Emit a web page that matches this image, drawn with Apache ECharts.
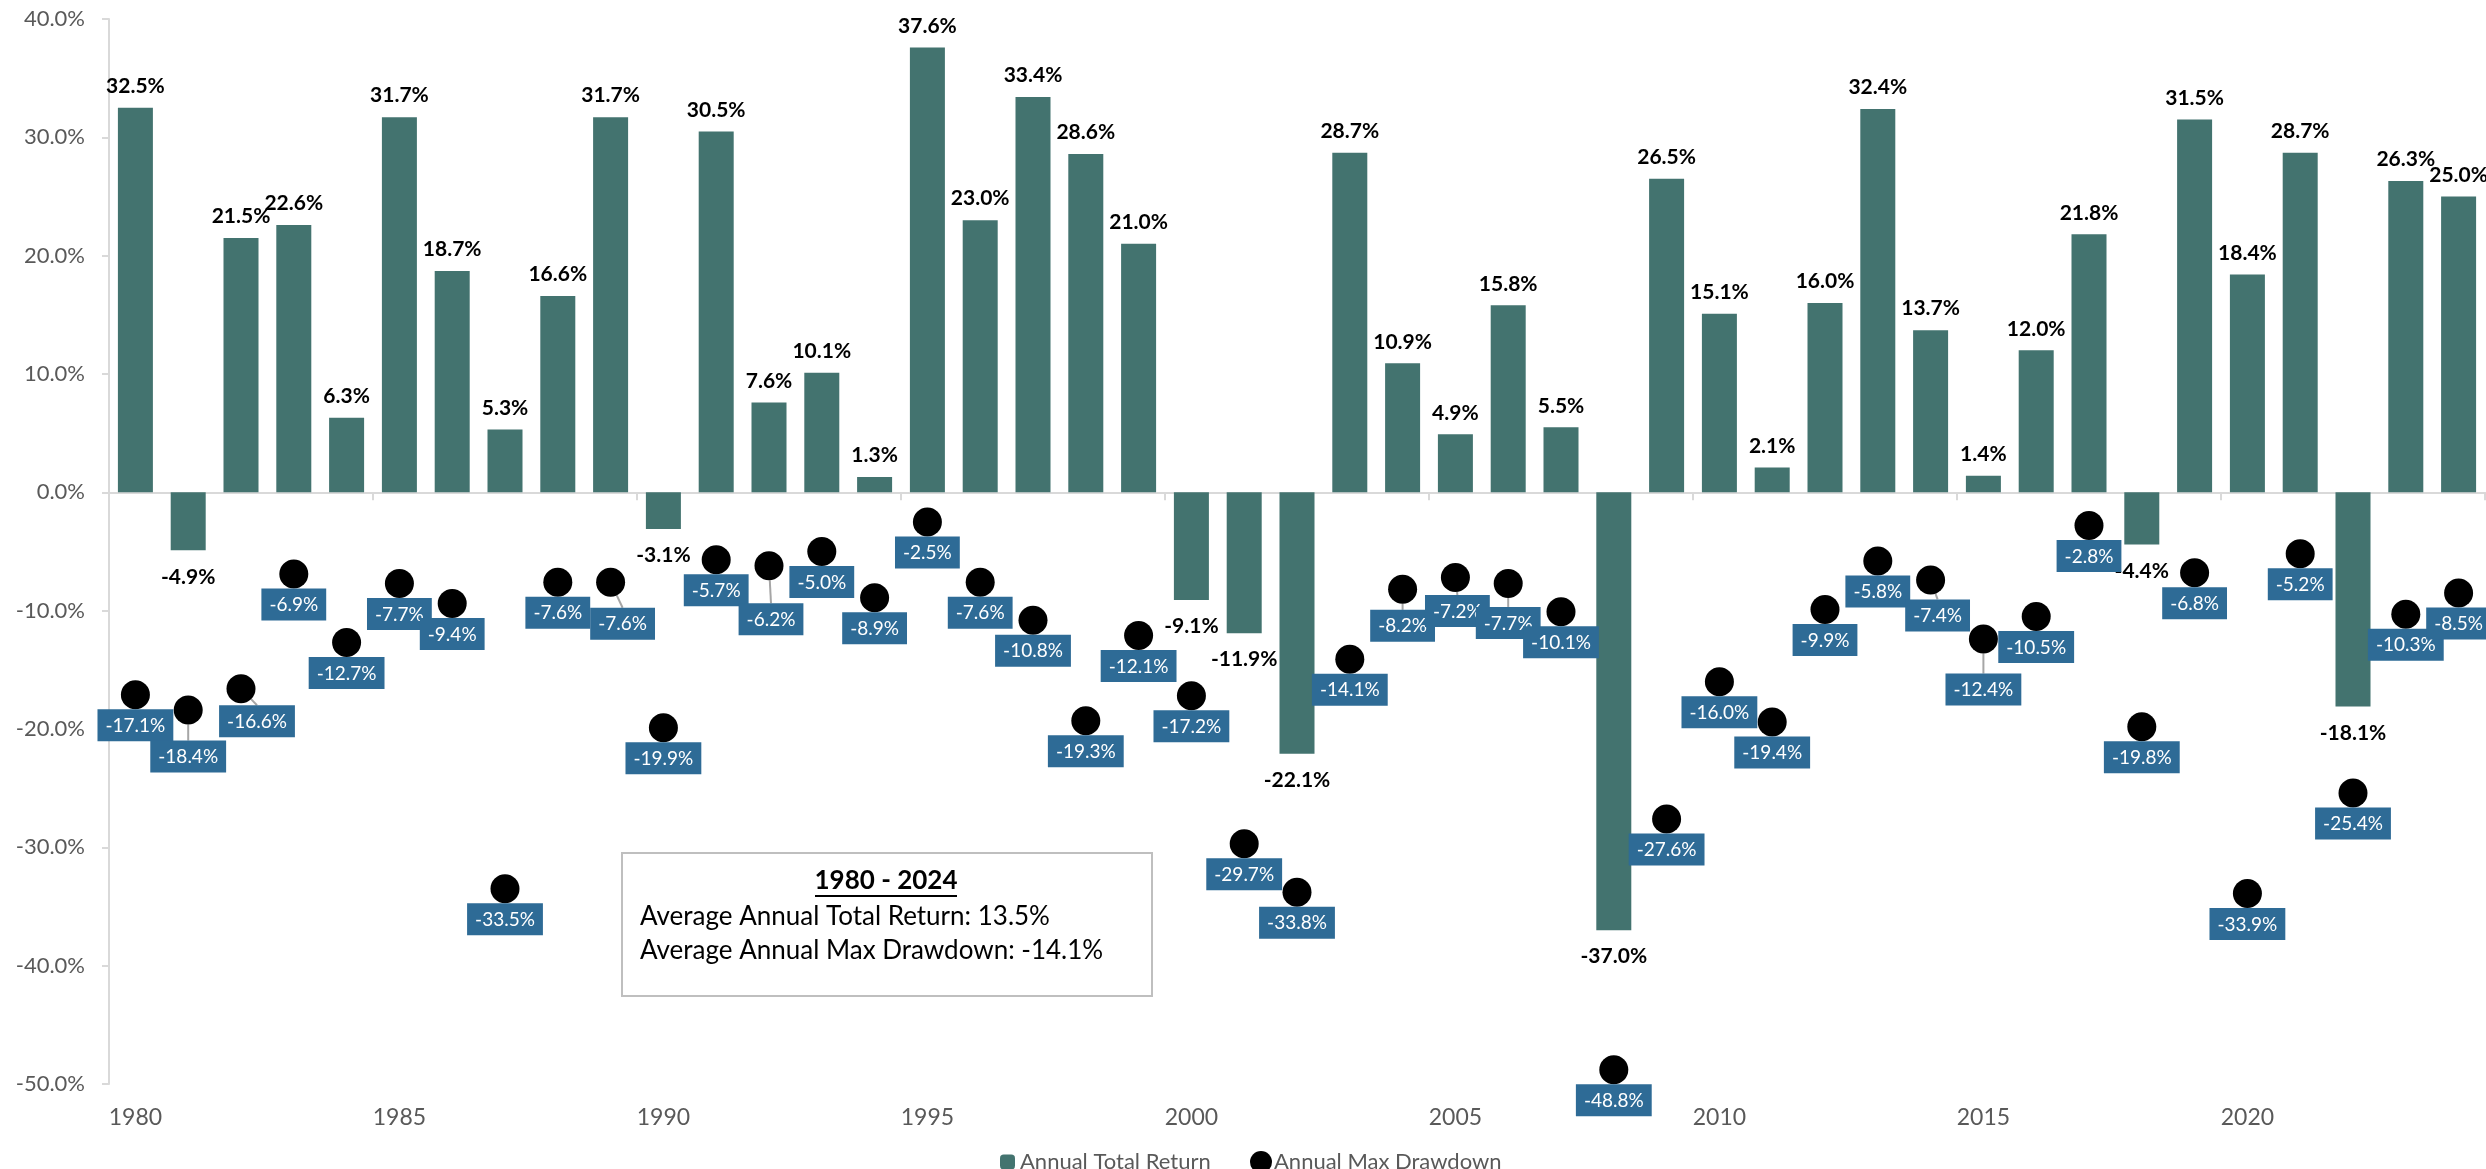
<!DOCTYPE html>
<html>
<head>
<meta charset="utf-8">
<script src="https://cdn.jsdelivr.net/npm/echarts@6/dist/echarts.min.js"></script>
<style>
html,body{margin:0;padding:0;background:#fff;}
#chart{width:2486px;height:1169px;}
</style>
</head>
<body>
<div id="chart"></div>
<script>
var years = ['1980','1981','1982','1983','1984','1985','1986','1987','1988','1989',
             '1990','1991','1992','1993','1994','1995','1996','1997','1998','1999',
             '2000','2001','2002','2003','2004','2005','2006','2007','2008','2009',
             '2010','2011','2012','2013','2014','2015','2016','2017','2018','2019',
             '2020','2021','2022','2023','2024'];
var totalReturn = [32.5,-4.9,21.5,22.6,6.3,31.7,18.7,5.3,16.6,31.7,
                   -3.1,30.5,7.6,10.1,1.3,37.6,23.0,33.4,28.6,21.0,
                   -9.1,-11.9,-22.1,28.7,10.9,4.9,15.8,5.5,-37.0,26.5,
                   15.1,2.1,16.0,32.4,13.7,1.4,12.0,21.8,-4.4,31.5,
                   18.4,28.7,-18.1,26.3,25.0];
var maxDrawdown = [-17.1,-18.4,-16.6,-6.9,-12.7,-7.7,-9.4,-33.5,-7.6,-7.6,
                   -19.9,-5.7,-6.2,-5.0,-8.9,-2.5,-7.6,-10.8,-19.3,-12.1,
                   -17.2,-29.7,-33.8,-14.1,-8.2,-7.2,-7.7,-10.1,-48.8,-27.6,
                   -16.0,-19.4,-9.9,-5.8,-7.4,-12.4,-10.5,-2.8,-19.8,-6.8,
                   -33.9,-5.2,-25.4,-10.3,-8.5];
var avgReturn = 13.5;
var avgDrawdown = -14.1;
var periodLabel = '1980 - 2024';

// labels moved off their dots (with a leader line), as in the source
var labelShift = {'1981':[0,16],'1982':[16,2],'1989':[12,11],'1992':[2,23],
                  '2004':[0,6],'2005':[2,3],'2006':[0,9],'2014':[7,5],'2015':[0,20]};

var FONT = 'Lato';
var pct = function (v) { return v.toFixed(1) + '%'; };

var chart = echarts.init(document.getElementById('chart'));

var barData = totalReturn.map(function (v) {
    return {
        value: v,
        label: v < 0 ? {position: 'bottom', distance: 16} : {position: 'top', distance: 11}
    };
});
var ddData = maxDrawdown.map(function (v, i) {
    var item = {value: v};
    if (labelShift[years[i]]) item.labelLine = {show: true};
    return item;
});

var option = {
    animation: false,
    backgroundColor: '#fff',
    grid: {left: 109, right: 1, top: 19, bottom: 85},
    legend: [
        {data: ['Annual Total Return'], left: 995, top: 1146, itemWidth: 15, itemHeight: 15,
         itemGap: 0, textStyle: {fontFamily: FONT, fontSize: 22, color: '#595959'}},
        {data: ['Annual Max Drawdown'], left: 1245, top: 1146, itemWidth: 22, itemHeight: 22,
         textStyle: {fontFamily: FONT, fontSize: 22, color: '#595959', padding: [0, 0, 0, -3]}}
    ],
    xAxis: [
        {
            type: 'category',
            data: years,
            axisLine: {onZero: true, lineStyle: {color: '#d9d9d9', width: 2}},
            axisTick: {show: true, interval: 4, length: 8, lineStyle: {color: '#d9d9d9', width: 2}},
            axisLabel: {show: false},
            splitLine: {show: false}
        },
        {
            type: 'category',
            data: years,
            position: 'bottom',
            axisLine: {show: false, onZero: false},
            axisTick: {show: false},
            axisLabel: {interval: 4, margin: 22, color: '#595959', fontFamily: FONT, fontSize: 23},
            splitLine: {show: false}
        }
    ],
    yAxis: {
        type: 'value',
        min: -50,
        max: 40,
        interval: 10,
        axisLine: {show: true, lineStyle: {color: '#d9d9d9', width: 2}},
        axisTick: {show: true, length: 7, lineStyle: {color: '#d9d9d9', width: 2}},
        axisLabel: {formatter: pct, margin: 24, color: '#595959', fontFamily: FONT, fontSize: 22},
        splitLine: {show: false}
    },
    series: [
        {
            name: 'Annual Total Return',
            type: 'bar',
            data: barData,
            barWidth: 35,
            itemStyle: {color: '#43736f'},
            label: {
                show: true,
                formatter: function (p) { return pct(p.value); },
                color: '#000',
                fontFamily: FONT,
                fontWeight: 'bold',
                fontSize: 21
            },
            z: 2
        },
        {
            name: 'Annual Max Drawdown',
            type: 'scatter',
            data: ddData,
            symbol: 'circle',
            symbolSize: 29,
            itemStyle: {color: '#000', opacity: 1},
            label: {
                show: true,
                position: 'bottom',
                distance: 0,
                formatter: function (p) { return pct(p.value); },
                color: '#fff',
                fontFamily: FONT,
                fontSize: 19,
                backgroundColor: '#2e6b96',
                padding: [7, 8, 6, 8]
            },
            labelLine: {show: false, lineStyle: {color: '#a6a6a6', width: 2}},
            labelLayout: function (params) {
                var s = labelShift[years[params.dataIndex]];
                return s ? {dx: s[0], dy: s[1]} : {};
            },
            emphasis: {disabled: true},
            z: 4
        }
    ],
    graphic: [
        {type: 'rect', left: 621, top: 852, shape: {width: 530, height: 143},
         style: {fill: '#fff', stroke: '#bfbfbf', lineWidth: 2}},
        {type: 'text', x: 886, y: 881,
         style: {text: periodLabel, fontFamily: FONT, fontWeight: 'bold', fontSize: 26, fill: '#000',
                 align: 'center', verticalAlign: 'middle'}},
        {type: 'line', shape: {x1: 815, y1: 896, x2: 957, y2: 896},
         style: {stroke: '#000', lineWidth: 2}},
        {type: 'text', x: 640, y: 917,
         style: {text: 'Average Annual Total Return: ' + pct(avgReturn), fontFamily: FONT, fontSize: 26,
                 fill: '#000', verticalAlign: 'middle'}},
        {type: 'text', x: 640, y: 951,
         style: {text: 'Average Annual Max Drawdown: ' + pct(avgDrawdown), fontFamily: FONT, fontSize: 26,
                 fill: '#000', verticalAlign: 'middle'}}
    ]
};
chart.setOption(option);
</script>
</body>
</html>
